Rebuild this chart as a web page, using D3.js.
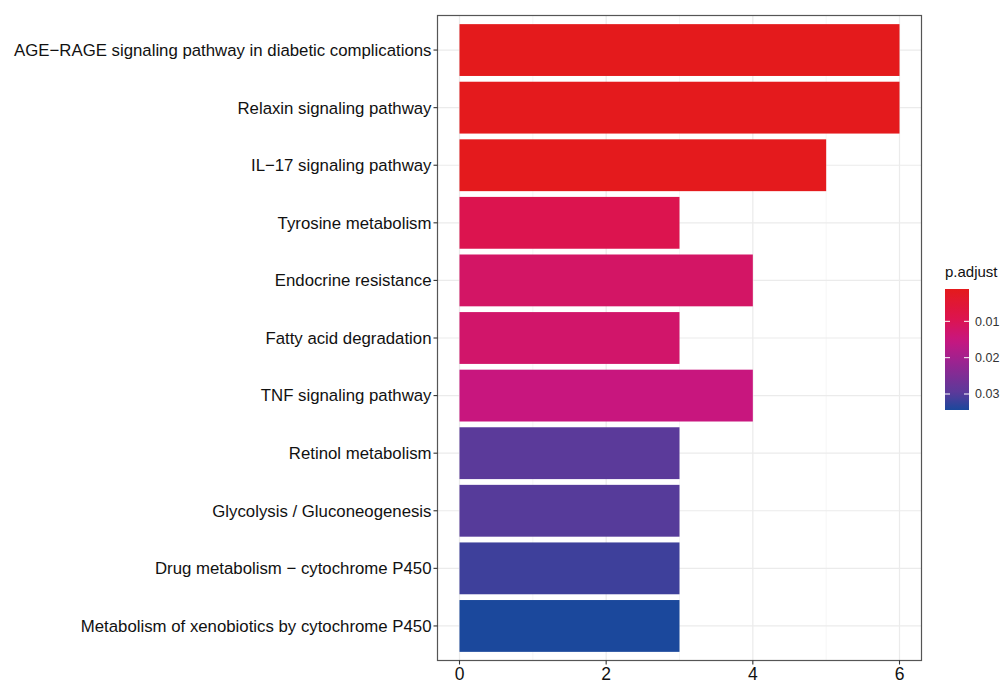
<!DOCTYPE html>
<html>
<head>
<meta charset="utf-8">
<script src="https://cdn.jsdelivr.net/npm/d3@7/dist/d3.min.js"></script>
<style>
  html, body { margin: 0; padding: 0; background: #fff; }
  svg { display: block; font-family: "Liberation Sans", Arial, sans-serif; }
</style>
</head>
<body>
<svg id="chart" width="1003" height="681"></svg>
<script>
// Enriched KEGG pathways, top to bottom
const pathways = [
  "AGE\u2212RAGE signaling pathway in diabetic complications",
  "Relaxin signaling pathway",
  "IL\u221217 signaling pathway",
  "Tyrosine metabolism",
  "Endocrine resistance",
  "Fatty acid degradation",
  "TNF signaling pathway",
  "Retinol metabolism",
  "Glycolysis / Gluconeogenesis",
  "Drug metabolism \u2212 cytochrome P450",
  "Metabolism of xenobiotics by cytochrome P450"
];
// Gene count per pathway
const counts = [6, 6, 5, 3, 4, 3, 4, 3, 3, 3, 3];
// Adjusted p-values
const pAdjust = [0.0011, 0.0012, 0.0013, 0.0092, 0.0120, 0.0125, 0.0150, 0.0296, 0.0300, 0.0318, 0.0344];

const xTicks = [0, 2, 4, 6];
const xMinor = [1, 3, 5];
const legendTicks = [0.01, 0.02, 0.03];

// red -> magenta -> purple -> blue ramp (position along the p.adjust range)
const rampStops = [0, 0.25, 0.42, 0.6, 0.86, 1];
const rampColors = ["#e41a1c", "#dc1450", "#c8167f", "#9c2390", "#5a3a9a", "#1b489c"];

const svg = d3.select("#chart");

const panel = { left: 437.5, right: 921.5, top: 15.5, bottom: 660.5 };

const x = d3.scaleLinear().domain([-0.3, 6.3]).range([panel.left, panel.right]);
// ggplot-style discrete expansion: centres 0.6 units from the edges
const y = d3.scalePoint()
  .domain(pathways)
  .range([panel.top, panel.bottom])
  .padding(0.6);
const step = y.step();
const barH = step * 0.9;

const pExt = d3.extent(pAdjust);
const ramp = d3.scaleLinear().domain(rampStops).range(rampColors).interpolate(d3.interpolateRgb);
const tOf = d3.scaleLinear().domain(pExt).range([0, 1]);
const color = p => ramp(tOf(p));

// Grid lines
const grid = svg.append("g");
grid.selectAll("line.minor").data(xMinor).join("line")
  .attr("class", "minor")
  .attr("x1", d => x(d)).attr("x2", d => x(d))
  .attr("y1", panel.top).attr("y2", panel.bottom)
  .attr("stroke", "#f4f4f4").attr("stroke-width", 0.8);
grid.selectAll("line.major").data(xTicks).join("line")
  .attr("class", "major")
  .attr("x1", d => x(d)).attr("x2", d => x(d))
  .attr("y1", panel.top).attr("y2", panel.bottom)
  .attr("stroke", "#ebebeb").attr("stroke-width", 1.2);
grid.selectAll("line.hmajor").data(pathways).join("line")
  .attr("class", "hmajor")
  .attr("x1", panel.left).attr("x2", panel.right)
  .attr("y1", d => y(d)).attr("y2", d => y(d))
  .attr("stroke", "#ebebeb").attr("stroke-width", 1.2);

// Bars
svg.append("g").selectAll("rect").data(pathways).join("rect")
  .attr("x", x(0))
  .attr("y", d => y(d) - barH / 2)
  .attr("width", (d, i) => x(counts[i]) - x(0))
  .attr("height", barH)
  .attr("fill", (d, i) => color(pAdjust[i]));

// Panel border
svg.append("rect")
  .attr("x", panel.left).attr("y", panel.top)
  .attr("width", panel.right - panel.left).attr("height", panel.bottom - panel.top)
  .attr("fill", "none").attr("stroke", "#555").attr("stroke-width", 1.2);

// Y axis labels and ticks
const yAxis = svg.append("g");
yAxis.selectAll("line").data(pathways).join("line")
  .attr("x1", panel.left - 4).attr("x2", panel.left)
  .attr("y1", d => y(d)).attr("y2", d => y(d))
  .attr("stroke", "#333").attr("stroke-width", 1.1);
yAxis.selectAll("text").data(pathways).join("text")
  .attr("x", panel.left - 6)
  .attr("y", d => y(d))
  .attr("dy", "0.35em")
  .attr("text-anchor", "end")
  .attr("font-size", 16.8)
  .attr("fill", "#111")
  .text(d => d);

// X axis
const xAxis = svg.append("g");
xAxis.selectAll("line").data(xTicks).join("line")
  .attr("x1", d => x(d)).attr("x2", d => x(d))
  .attr("y1", panel.bottom).attr("y2", panel.bottom + 4)
  .attr("stroke", "#333").attr("stroke-width", 1.1);
xAxis.selectAll("text").data(xTicks).join("text")
  .attr("x", d => x(d))
  .attr("y", 679.5)
  .attr("text-anchor", "middle")
  .attr("font-size", 17.5)
  .attr("fill", "#111")
  .text(d => d);

// Colour legend
const leg = { x: 945, y: 289, w: 24, h: 121 };
const defs = svg.append("defs");
const grad = defs.append("linearGradient")
  .attr("id", "pgrad").attr("x1", 0).attr("x2", 0).attr("y1", 0).attr("y2", 1);
d3.range(0, 1.0001, 0.05).forEach(t => {
  grad.append("stop").attr("offset", t).attr("stop-color", ramp(t));
});
const ly = d3.scaleLinear().domain(pExt).range([leg.y, leg.y + leg.h]);

svg.append("text")
  .attr("x", leg.x).attr("y", leg.y - 12)
  .attr("font-size", 15)
  .attr("fill", "#111")
  .text("p.adjust");

svg.append("rect")
  .attr("x", leg.x).attr("y", leg.y)
  .attr("width", leg.w).attr("height", leg.h)
  .attr("fill", "url(#pgrad)");

const lt = svg.append("g");
lt.selectAll("line.l").data(legendTicks).join("line")
  .attr("class", "l")
  .attr("x1", leg.x).attr("x2", leg.x + 5)
  .attr("y1", d => ly(d)).attr("y2", d => ly(d))
  .attr("stroke", "#fff").attr("stroke-width", 1);
lt.selectAll("line.r").data(legendTicks).join("line")
  .attr("class", "r")
  .attr("x1", leg.x + leg.w - 5).attr("x2", leg.x + leg.w)
  .attr("y1", d => ly(d)).attr("y2", d => ly(d))
  .attr("stroke", "#fff").attr("stroke-width", 1);
lt.selectAll("text").data(legendTicks).join("text")
  .attr("x", leg.x + leg.w + 6)
  .attr("y", d => ly(d))
  .attr("dy", "0.35em")
  .attr("font-size", 12.5)
  .attr("fill", "#333")
  .text(d => d.toFixed(2));
</script>
</body>
</html>
